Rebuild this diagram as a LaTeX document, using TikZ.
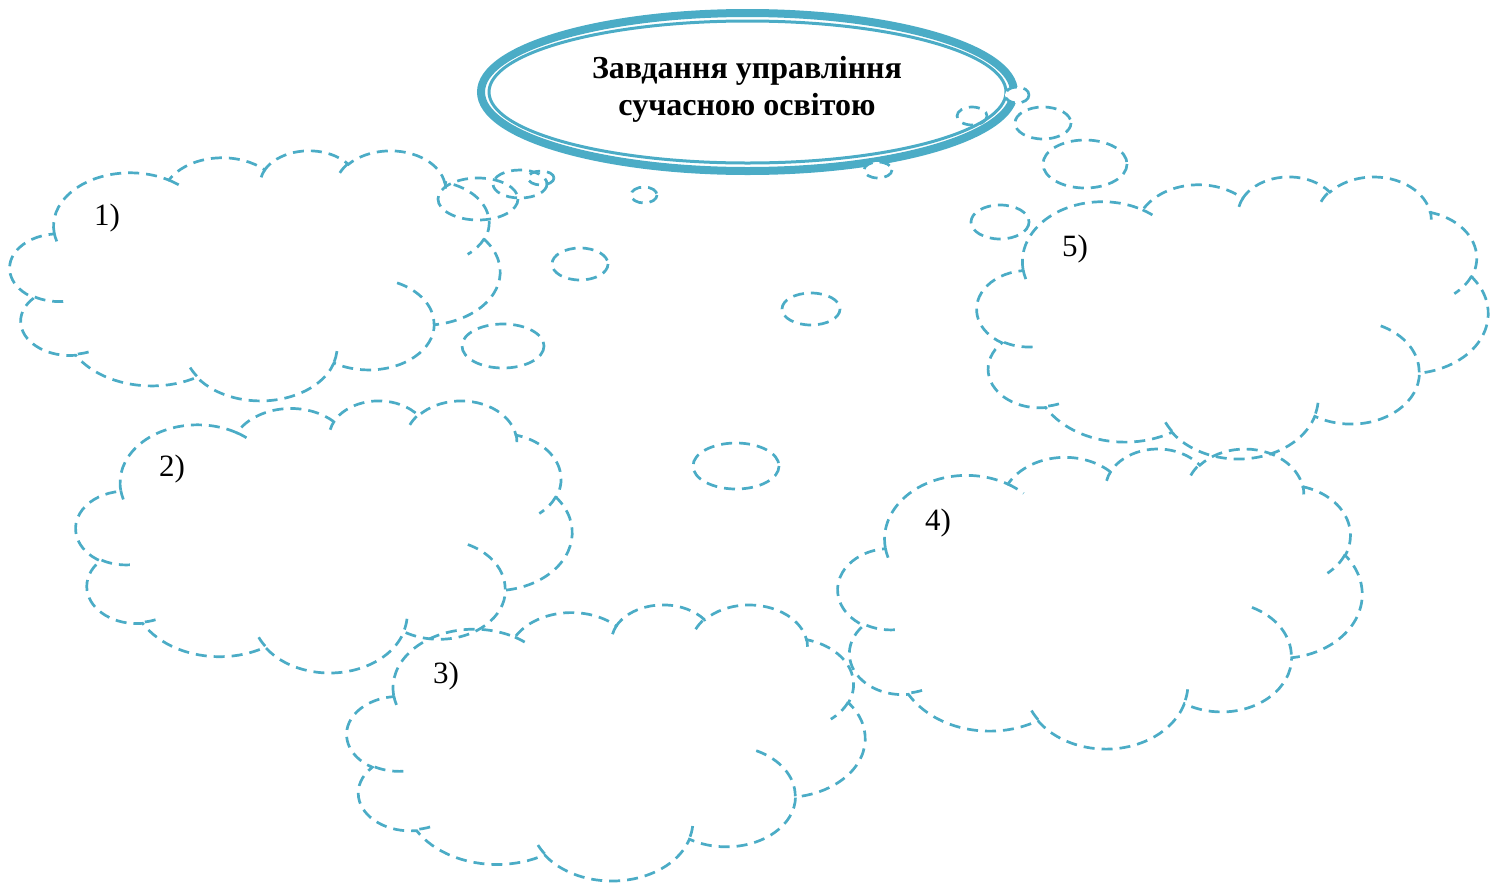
\documentclass[tikz,border=0pt]{standalone}
\usepackage{fontspec}
\setmainfont{Liberation Serif}
\definecolor{aqua}{HTML}{4BACC6}
% one arc of the cloud outline, angles as seen on the ellipse
\newcommand\cloudarc[4]{arc[x radius=#1,y radius=#2,start angle={atan2(#1*sin(#3),#2*cos(#3))},delta angle={mod(atan2(#1*sin(#3+#4),#2*cos(#3+#4))-atan2(#1*sin(#3),#2*cos(#3))+720,360)}]}
\newcommand\wordcloud[4]{%
\begin{scope}[shift={(#1,#2)},xscale=#3/432,yscale=#4/432]
\draw[cloudline] (39,143.7) \cloudarc{67.53}{91.90}{-190.4875}{123.7805}
  \cloudarc{53.33}{72.67}{-144.1024}{89.9452}
  \cloudarc{43.65}{59.45}{-145.8079}{99.7230}
  \cloudarc{48.57}{65.95}{-130.9861}{117.2417}
  \cloudarc{53.33}{72.73}{-78.7089}{109.0269}
  \cloudarc{67.75}{92.20}{-46.2673}{130.2690}
  \cloudarc{57.85}{78.67}{0.6250}{114.0333}
  \cloudarc{67.52}{92.15}{22.4516}{115.1726}
  \cloudarc{77.20}{105.43}{66.2426}{75.7110}
  \cloudarc{43.60}{59.18}{-274.9421}{146.7356}
  \cloudarc{43.45}{59.45}{-246.8285}{152.5189} -- cycle;
\draw[cloudline] (46.93,261.77) \cloudarc{43.45}{59.45}{86.7420}{26.4295}
  (69.28,348.99) \cloudarc{43.60}{59.18}{73.6105}{11.4475}
  (164.78,390.90) \cloudarc{67.52}{92.15}{137.6242}{14.0811}
  (288.27,347.51) \cloudarc{67.52}{92.15}{6.4533}{15.9984}
  (341.29,229.54) \cloudarc{57.85}{78.67}{-70.2924}{70.9174}
  (417.98,153.54) \cloudarc{53.33}{72.73}{30.3180}{27.7515}
  (383.24,54.26) \cloudarc{48.57}{65.95}{-13.7443}{14.8589}
  (290.78,39.52) \cloudarc{48.57}{65.95}{-149.1815}{18.1954}
  (221.41,47.20) \cloudarc{43.65}{59.45}{-163.4943}{17.6864}
  (140.00,51.92) \cloudarc{67.53}{91.90}{-66.7070}{12.3194}
  (41.27,157.89) \cloudarc{67.53}{91.90}{157.6544}{11.8582};
\end{scope}}

\begin{document}
\begin{tikzpicture}[x=0.5pt,y=-0.5pt,
    cloudline/.style={aqua,line width=1.35pt,dash pattern=on 5.5pt off 3.5pt},
    bubble/.style={cloudline},
    lbl/.style={font=\fontsize{15.5}{17}\selectfont,inner sep=0pt},
    heading/.style={font=\bfseries\fontsize{16}{18.5}\selectfont,align=center,inner sep=0pt}]
\useasboundingbox (0,0) rectangle (1502,884);

\draw[aqua,line width=4pt] (747.5,92) ellipse[x radius=266.5,y radius=79];
\draw[aqua,line width=1.5pt] (747.5,92) ellipse[x radius=258.5,y radius=71];
\node[heading] (title) at (747,89) {Завдання управління\\сучасною освітою};

\wordcloud{10}{150}{490}{250}
\wordcloud{76}{400}{496}{272}
\wordcloud{347}{604}{518}{276}
\wordcloud{838}{448}{524}{300}
\wordcloud{977}{176}{511}{282}

\node[lbl] (n1) at (107,218) {1)};
\node[lbl] (n2) at (172,469) {2)};
\node[lbl] (n3) at (446,676) {3)};
\node[lbl] (n4) at (938,523) {4)};
\node[lbl] (n5) at (1075,249) {5)};

% tails
\draw[bubble] (478,199) ellipse[x radius=40,y radius=21];
\draw[bubble] (520,184) ellipse[x radius=27,y radius=14];
\draw[bubble] (541,178) ellipse[x radius=13,y radius=7];
\draw[bubble] (503,346) ellipse[x radius=41,y radius=22];
\draw[bubble] (580,264) ellipse[x radius=28,y radius=16];
\draw[bubble] (644,195) ellipse[x radius=13,y radius=8];
\draw[bubble] (736,466) ellipse[x radius=43,y radius=23];
\draw[bubble] (811,309) ellipse[x radius=29,y radius=16];
\draw[bubble,fill=white] (878,170) ellipse[x radius=14,y radius=8];
\draw[bubble] (1085,164) ellipse[x radius=42,y radius=24];
\draw[bubble] (1043,123) ellipse[x radius=28,y radius=16];
\draw[bubble,fill=white] (1017,95) ellipse[x radius=12,y radius=8];
\draw[bubble] (1000,222) ellipse[x radius=29,y radius=17];
\draw[bubble] (972,116) ellipse[x radius=15,y radius=9];
\end{tikzpicture}
\end{document}
